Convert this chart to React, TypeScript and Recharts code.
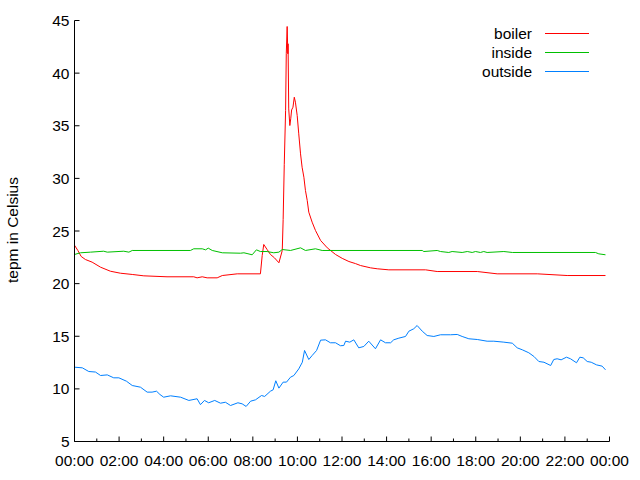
import { LineChart, Line, XAxis, YAxis, Legend } from "recharts";

// hours since midnight + temperature in Celsius
const boiler_hours = [
	0, 0.15, 0.3, 0.49, 0.79, 1.17, 1.61, 2.06, 2.59, 3.11, 4.15, 5.35, 5.5, 5.73, 5.95, 6.4, 6.63, 7.3, 8.34,
	8.42, 8.49, 8.64, 8.79, 8.97, 9.17, 9.32, 9.36, 9.41, 9.47, 9.5, 9.54, 9.57, 9.58, 9.61, 9.66, 9.7, 9.74,
	9.8, 9.86, 9.91, 9.99, 10.06, 10.14, 10.21, 10.29, 10.36, 10.44, 10.51, 10.66, 10.81, 11.04, 11.34, 11.71,
	12.01, 12.31, 12.61, 12.83, 13.28, 13.58, 14.1, 15.75, 16.27, 18.07, 18.96, 20.76, 22.1, 23.82,
];
const boiler_temps = [
	23.65, 23.15, 22.58, 22.29, 22.04, 21.56, 21.18, 20.99, 20.87, 20.74, 20.65, 20.65, 20.55, 20.65, 20.55, 20.55,
	20.77, 20.93, 20.93, 22.67, 23.72, 23.24, 22.77, 22.45, 21.98, 23.15, 26.09, 31.3, 36.45, 41.84, 44.43, 41.84,
	42.79, 36.6, 35.02, 35.66, 36.5, 36.76, 37.71, 37.24, 35.97, 34.23, 32.33, 31.06, 30.11, 28.85, 27.9, 26.79,
	25.84, 25.05, 24.1, 23.4, 22.77, 22.4, 22.1, 21.9, 21.72, 21.5, 21.41, 21.31, 21.31, 21.15, 21.15, 20.93,
	20.93, 20.77, 20.77,
];

const inside_hours = [
	0, 0.27, 0.72, 1.31, 1.47, 2.21, 2.44, 2.59, 5.2, 5.35, 5.73, 5.88, 6.0, 6.18, 6.63, 7.45, 7.6, 7.74, 7.97,
	8.16, 8.34, 8.64, 8.94, 9.17, 9.32, 9.69, 10.14, 10.36, 10.81, 11.11, 15.6, 15.67, 16.27, 16.42, 16.79,
	16.94, 17.39, 17.62, 17.84, 17.99, 18.21, 18.36, 18.51, 19.26, 19.64, 23.37, 23.52, 23.82,
];
const inside_temps = [
	22.77, 22.93, 22.99, 23.08, 22.99, 23.08, 22.99, 23.15, 23.15, 23.31, 23.31, 23.21, 23.37, 23.15, 22.93,
	22.89, 22.93, 22.86, 22.74, 23.21, 23.05, 23.05, 22.93, 22.99, 23.24, 23.15, 23.4, 23.15, 23.31, 23.15,
	23.15, 23.05, 23.15, 23.05, 22.96, 23.05, 22.96, 23.05, 22.96, 23.05, 22.96, 23.05, 22.96, 23.05, 22.96,
	22.96, 22.83, 22.74,
];

const outside_hours = [
	0, 0.35, 0.64, 0.94, 1.17, 1.47, 1.76, 1.99, 2.33, 2.59, 2.96, 3.26, 3.48, 3.68, 3.83, 4.0, 4.31, 4.76, 5.13,
	5.5, 5.65, 5.83, 6.02, 6.29, 6.55, 6.77, 7.0, 7.33, 7.52, 7.7, 7.9, 8.12, 8.39, 8.53, 8.79, 8.91, 9.03,
	9.17, 9.36, 9.51, 9.69, 9.84, 10.06, 10.22, 10.32, 10.51, 10.66, 10.86, 11.04, 11.26, 11.48, 11.71, 11.93,
	12.08, 12.16, 12.35, 12.53, 12.75, 12.98, 13.2, 13.5, 13.73, 13.95, 14.18, 14.32, 14.55, 14.85, 15.0,
	15.22, 15.37, 15.6, 15.82, 16.12, 16.42, 16.87, 17.17, 17.39, 17.69, 18.07, 18.51, 18.81, 19.26, 19.64,
	19.86, 20.09, 20.38, 20.61, 20.83, 21.06, 21.36, 21.5, 21.65, 21.83, 22.07, 22.25, 22.52, 22.67, 22.82,
	23.0, 23.18, 23.42, 23.67, 23.82,
];
const outside_temps = [
	12.06, 12.0, 11.65, 11.6, 11.27, 11.33, 11.05, 11.05, 10.73, 10.32, 10.16, 9.69, 9.69, 9.78, 9.47, 9.21,
	9.34, 9.21, 8.9, 9.06, 8.5, 8.9, 8.68, 8.9, 8.64, 8.73, 8.42, 8.68, 8.58, 8.33, 8.83, 8.96, 9.37, 9.28,
	9.78, 9.91, 10.77, 10.07, 10.64, 10.64, 11.11, 11.27, 11.9, 12.53, 13.65, 12.79, 13.17, 13.65, 14.63,
	14.66, 14.38, 14.38, 14.1, 14.12, 14.53, 14.44, 14.66, 13.9, 14.03, 14.53, 13.81, 14.66, 14.38, 14.38,
	14.66, 14.82, 14.98, 15.48, 15.71, 16.02, 15.48, 15.07, 14.98, 15.14, 15.14, 15.17, 14.98, 14.76, 14.69,
	14.53, 14.53, 14.44, 14.34, 13.9, 13.71, 13.43, 13.08, 12.6, 12.53, 12.22, 12.79, 12.86, 12.76, 13.01,
	12.86, 12.48, 13.01, 12.95, 12.6, 12.53, 12.28, 12.16, 11.81,
];

const hour_ticks = [0, 1, 2, 3, 4, 5, 6, 7, 8, 9, 10, 11, 12, 13, 14, 15, 16, 17, 18, 19, 20, 21, 22, 23, 24];
const temp_ticks = [5, 10, 15, 20, 25, 30, 35, 40, 45];

const toRows = (hours: number[], temps: number[]) => hours.map((h, i) => ({ h, t: temps[i] }));
const boiler = toRows(boiler_hours, boiler_temps);
const inside = toRows(inside_hours, inside_temps);
const outside = toRows(outside_hours, outside_temps);

const FONT = "'Liberation Sans', Arial, sans-serif";
const FS = 15.5;

const fmtHour = (h: number) => `${String(h % 24).padStart(2, "0")}:00`;

function BottomTick({ x, y, payload }: any) {
	const major = payload.value % 2 === 0;
	return (
		<g>
			<line x1={x} x2={x} y1={y} y2={y - (major ? 5 : 3)} stroke="#000" />
			{major && (
				<text x={x} y={y + 24} textAnchor="middle" fontSize={FS} fontFamily={FONT} fill="#000">
					{fmtHour(payload.value)}
				</text>
			)}
		</g>
	);
}

function TopTick({ x, y, payload }: any) {
	const major = payload.value % 2 === 0;
	return <line x1={x} x2={x} y1={y} y2={y + (major ? 5 : 3)} stroke="#000" />;
}

function LeftTick({ x, y, payload }: any) {
	return (
		<g>
			<line x1={x} x2={x + 5} y1={y} y2={y} stroke="#000" />
			<text x={x - 5} y={y + 5.5} textAnchor="end" fontSize={FS} fontFamily={FONT} fill="#000">
				{payload.value}
			</text>
		</g>
	);
}

function RightTick({ x, y }: any) {
	return <line x1={x} x2={x - 5} y1={y} y2={y} stroke="#000" />;
}

function KeyBox({ payload }: any) {
	return (
		<div style={{ fontFamily: FONT, fontSize: FS, color: "#000" }}>
			{(payload || []).map((p: any) => (
				<div
					key={p.value}
					style={{ height: 19, display: "flex", alignItems: "center", justifyContent: "flex-end" }}
				>
					<span>{p.value}</span>
					<span style={{ display: "inline-block", width: 44, height: 1, background: p.color, marginLeft: 13 }} />
				</div>
			))}
		</div>
	);
}

export default function App() {
	return (
		<div style={{ position: "absolute", left: 0, top: 0, width: 640, height: 480, background: "#fff" }}>
			<LineChart width={640} height={480} margin={{ top: 20.5, right: 30.5, bottom: 0, left: 0 }}>
				<XAxis
					xAxisId="b"
					dataKey="h"
					type="number"
					domain={[0, 24]}
					ticks={hour_ticks}
					interval={0}
					height={38.5}
					tickSize={0}
					tickMargin={0}
					tickLine={false}
					tick={<BottomTick />}
					axisLine={{ stroke: "#000" }}
					allowDuplicatedCategory={false}
				/>
				<XAxis
					xAxisId="t"
					orientation="top"
					dataKey="h"
					type="number"
					domain={[0, 24]}
					ticks={hour_ticks}
					interval={0}
					height={0}
					tickSize={0}
					tickMargin={0}
					tickLine={false}
					tick={<TopTick />}
					axisLine={{ stroke: "#000" }}
				/>
				<YAxis
					yAxisId="l"
					type="number"
					domain={[5, 45]}
					ticks={temp_ticks}
					interval={0}
					width={74.5}
					tickSize={0}
					tickMargin={0}
					tickLine={false}
					tick={<LeftTick />}
					axisLine={{ stroke: "#000" }}
				/>
				<YAxis
					yAxisId="r"
					orientation="right"
					type="number"
					domain={[5, 45]}
					ticks={temp_ticks}
					interval={0}
					width={0}
					tickSize={0}
					tickMargin={0}
					tickLine={false}
					tick={<RightTick />}
					axisLine={{ stroke: "#000" }}
				/>
				<Legend
					layout="vertical"
					align="center"
					verticalAlign="middle"
					wrapperStyle={{ top: 24, left: 379, width: 210 }}
					content={<KeyBox />}
				/>
				<Line
					xAxisId="b"
					yAxisId="l"
					data={boiler}
					dataKey="t"
					name="boiler"
					stroke="#ff0000"
					strokeWidth={1}
					dot={false}
					isAnimationActive={false}
				/>
				<Line
					xAxisId="b"
					yAxisId="l"
					data={inside}
					dataKey="t"
					name="inside"
					stroke="#00c000"
					strokeWidth={1}
					dot={false}
					isAnimationActive={false}
				/>
				<Line
					xAxisId="b"
					yAxisId="l"
					data={outside}
					dataKey="t"
					name="outside"
					stroke="#0080ff"
					strokeWidth={1}
					dot={false}
					isAnimationActive={false}
				/>
				<text
					x={18}
					y={230}
					transform="rotate(-90 18 230)"
					textAnchor="middle"
					fontSize={FS}
					fontFamily={FONT}
					fill="#000"
				>
					tepm in Celsius
				</text>
			</LineChart>
		</div>
	);
}
